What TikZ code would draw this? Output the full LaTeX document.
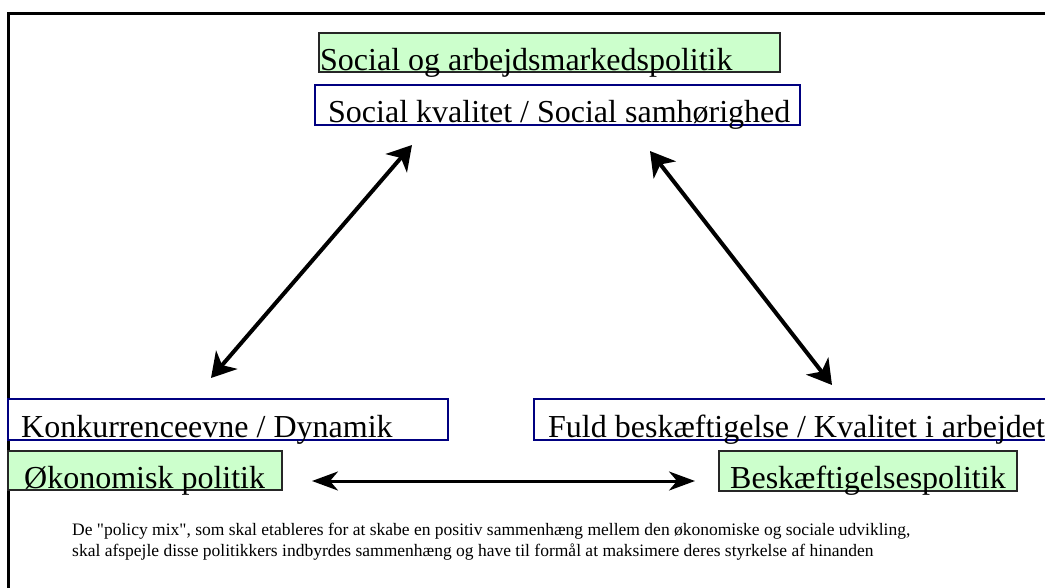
\documentclass[tikz,border=0pt]{standalone}
\usepackage{fontspec}
\setmainfont{Liberation Serif}[Ligatures=TeXOff]
\usetikzlibrary{arrows.meta}
\definecolor{boxgreen}{HTML}{CCFFCC}
\definecolor{boxblue}{HTML}{000080}
\begin{document}
\begin{tikzpicture}[x=1pt,y=-1pt,
  greenbox/.style={draw=black!85,line width=1.5pt,fill=boxgreen},
  bluebox/.style={draw=boxblue,line width=1.3pt,fill=white},
  label/.style={anchor=base west,inner sep=0pt,font=\fontsize{32}{36}\selectfont},
  note/.style={anchor=base west,inner sep=0pt,font=\fontsize{17.5}{20}\selectfont},
  bigarrow/.style={line width=4pt,{Stealth[length=24pt,width=28pt,inset=7pt]}-{Stealth[length=24pt,width=28pt,inset=7pt]}},
  flatarrow/.style={line width=3pt,{Stealth[length=26pt,width=19pt,inset=8pt]}-{Stealth[length=26pt,width=19pt,inset=8pt]}},
  frameline/.style={line width=3pt}]
\useasboundingbox (0,0) rectangle (1045,587);
% frame
\coordinate (fTL) at (8,13);
\coordinate (fTR) at (1050,13);
\coordinate (fBL) at (8,592);
\draw[frameline] (fBL) -- (fTL) -- (fTR);
% top boxes
\draw[greenbox] (319,33) rectangle (780,72);
\node[label] (socpol) at (320,70) {Social og arbejdsmarkedspolitik};
\draw[bluebox] (315,85) rectangle (800,125);
\node[label] (sockval) at (328,122) {Social kvalitet / Social samhørighed};
% left boxes
\draw[bluebox] (8,399) rectangle (448,440);
\node[label] (konk) at (21,437) {Konkurrenceevne / Dynamik};
\draw[greenbox] (8,451) rectangle (282,490);
\node[label] (okon) at (24,488) {Økonomisk politik};
% right boxes
\draw[bluebox] (534,399) rectangle (1050,440);
\node[label] (fuld) at (548,437) {Fuld beskæftigelse / Kvalitet i arbejdet};
\draw[greenbox] (719,451) rectangle (1017,491);
\node[label] (besk) at (730,488) {Beskæftigelsespolitik};
% arrows
\coordinate (a1s) at (211,378);
\coordinate (a1e) at (412,145);
\coordinate (a2s) at (650,151);
\coordinate (a2e) at (832,385);
\coordinate (a3s) at (312,481);
\coordinate (a3e) at (695,481);
\draw[bigarrow] (a1s) -- (a1e);
\draw[bigarrow] (a2s) -- (a2e);
\draw[flatarrow] (a3s) -- (a3e);
% note
\node[note] (note1) at (72,535) {De "policy mix", som skal etableres for at skabe en positiv sammenhæng mellem den økonomiske og sociale udvikling,};
\node[note] (note2) at (72,556) {skal afspejle disse politikkers indbyrdes sammenhæng og have til formål at maksimere deres styrkelse af hinanden};
\end{tikzpicture}
\end{document}
